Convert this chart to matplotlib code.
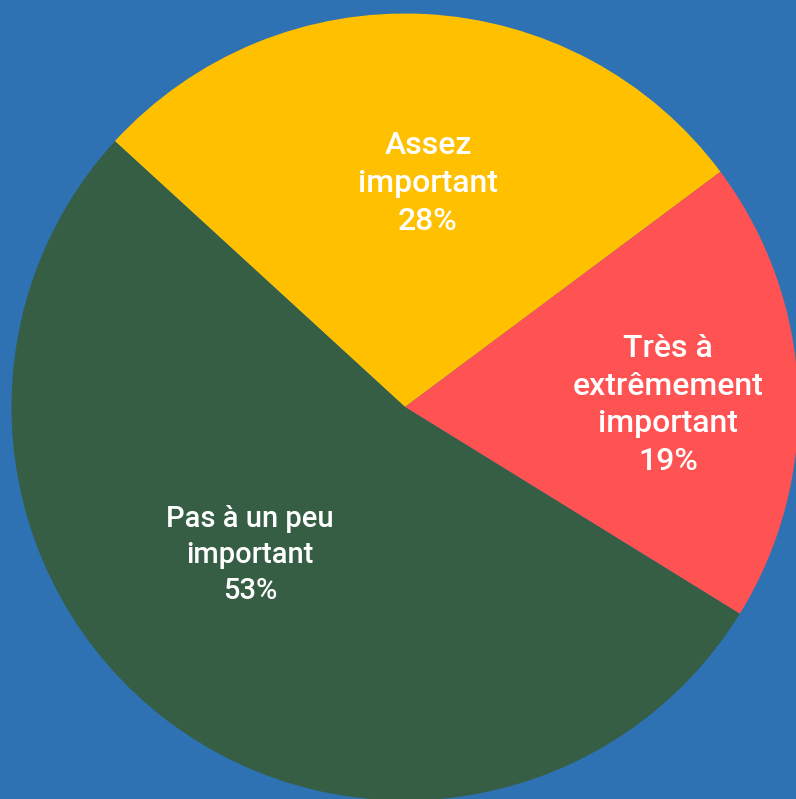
import numpy as np
import matplotlib

matplotlib.use("Agg")
import matplotlib.pyplot as plt

# Donnees (sens horaire depuis le haut-gauche)
categories = ["Assez\nimportant", "Très à\nextrêmement\nimportant", "Pas à un peu\nimportant"]
shares = [28, 19, 53]
colors = ["#FFC000", "#FF5252", "#355E44"]
background = "#2E72B3"

# Placement des etiquettes : (fraction du rayon, angle en degres, taille)
label_pos = [(0.571, 84.1, 23), (0.669, 0.4, 23), (0.545, 223.7, 21)]

W, H = 796, 799
cx, cy, r = 405.0, 407.0, 393.5

fig = plt.figure(figsize=(W / 100, H / 100), dpi=100)
fig.patch.set_facecolor(background)
ax = fig.add_axes([0, 0, 1, 1])
ax.set_facecolor(background)

ax.pie(
    shares,
    colors=colors,
    startangle=137.5,
    counterclock=False,
    radius=1.0,
    wedgeprops={"linewidth": 0},
)

total = sum(shares)
for name, val, (d, ang, fs) in zip(categories, shares, label_pos):
    t = np.deg2rad(ang)
    ax.text(
        d * np.cos(t),
        d * np.sin(t),
        f"{name}\n{round(100 * val / total)}%",
        ha="center",
        va="center",
        color="white",
        fontsize=fs,
        fontfamily="Roboto",
        fontweight="medium",
        linespacing=1.37,
    )

# fenetre en pixels -> coordonnees du cercle unite
ax.set_xlim(-cx / r, (W - cx) / r)
ax.set_ylim(-(H - cy) / r, cy / r)
ax.set_aspect("auto")
ax.axis("off")

fig.savefig("out.png", dpi=100, facecolor=background)
plt.close(fig)
